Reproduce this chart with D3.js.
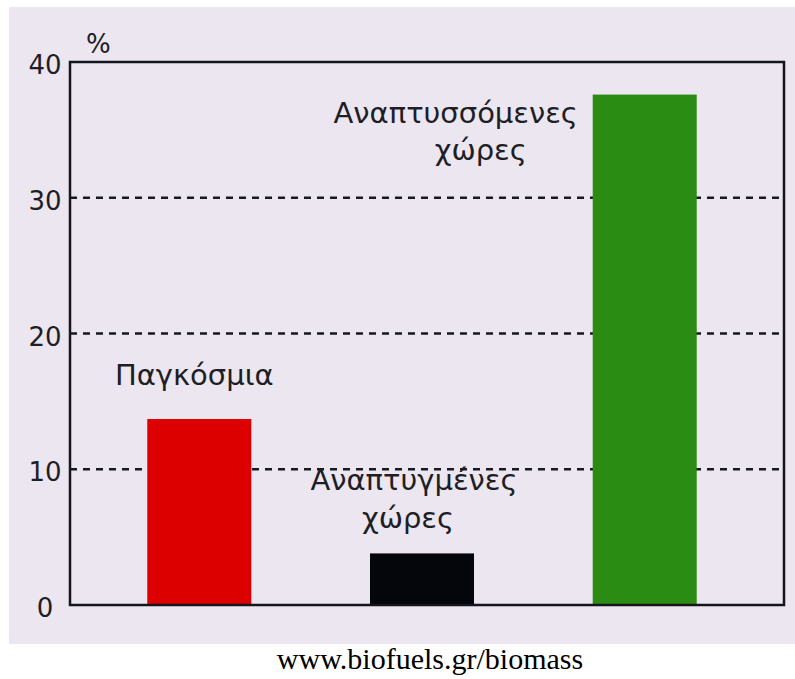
<!DOCTYPE html>
<html>
<head>
<meta charset="utf-8">
<script src="https://cdn.jsdelivr.net/npm/d3@7"></script>
<style>
  html, body { margin: 0; padding: 0; background: #ffffff; }
  svg { display: block; }
</style>
</head>
<body>
<svg id="chart" width="795" height="679"></svg>
<script>
// ---- data ----
const categories = ["Παγκόσμια", "Αναπτυγμένες χώρες", "Αναπτυσσόμενες χώρες"];
const values = [13.7, 3.8, 37.6];
const barColors = ["#dc0000", "#05050c", "#2a8c12"];
const labelLines = [["Παγκόσμια"], ["Αναπτυγμένες", "χώρες"], ["Αναπτυσσόμενες", "χώρες"]];
const yTicks = [0, 10, 20, 30, 40];
const gridValues = [10, 20, 30];
const unitLabel = "%";
const sourceText = "www.biofuels.gr/biomass";

// ---- layout (styling) ----
const W = 795, H = 679;
const plot = { left: 70, right: 784, top: 62, bottom: 605 };
// label placement: [dx from band centre, baseline y in data units] per line
const labelPlacement = [
  [[-5, 16.2]],
  [[-8, 8.47], [-14, 5.67]],
  [[-189, 35.5], [-164, 32.78]]
];

const svg = d3.select("#chart");

// scanned paper background
svg.append("rect").attr("x", 9).attr("y", 7).attr("width", W - 9).attr("height", 644 - 7)
  .attr("fill", "#ebe6f0");

const x = d3.scaleBand().domain(categories)
  .range([plot.left + 2, plot.left + 702])
  .paddingInner(0.533).paddingOuter(0.338);
const y = d3.scaleLinear().domain([0, 40]).range([plot.bottom, plot.top]);

// dashed gridlines
svg.append("g").selectAll("line").data(gridValues).join("line")
  .attr("x1", plot.left).attr("x2", plot.right)
  .attr("y1", d => y(d)).attr("y2", d => y(d))
  .attr("stroke", "#18181f").attr("stroke-width", 2.3)
  .attr("stroke-dasharray", "7,6");

// bars
svg.append("g").selectAll("rect").data(categories).join("rect")
  .attr("x", d => x(d)).attr("width", x.bandwidth())
  .attr("y", (d, i) => y(values[i]))
  .attr("height", (d, i) => y(0) - y(values[i]))
  .attr("fill", (d, i) => barColors[i]);

// frame
svg.append("rect")
  .attr("x", plot.left).attr("y", plot.top)
  .attr("width", plot.right - plot.left).attr("height", plot.bottom - plot.top)
  .attr("fill", "none").attr("stroke", "#15151c").attr("stroke-width", 2.5);

// y axis tick labels
const yAxis = d3.axisLeft(y).tickValues(yTicks).tickSize(0).tickPadding(0).tickFormat(d3.format("d"));
const gy = svg.append("g").attr("transform", `translate(${45},0)`).call(yAxis);
gy.select(".domain").remove();
gy.selectAll("text")
  .attr("text-anchor", "middle")
  .attr("x", 0).attr("dy", "0.45em")
  .attr("font-family", "DejaVu Sans, sans-serif")
  .attr("font-size", 26).attr("fill", "#1e1e24");

// unit label
svg.append("text").attr("x", 86).attr("y", 53).text(unitLabel)
  .attr("font-family", "DejaVu Sans, sans-serif")
  .attr("font-size", 26).attr("fill", "#1e1e24");

// category labels
categories.forEach((c, i) => {
  labelLines[i].forEach((line, j) => {
    const [dx, yv] = labelPlacement[i][j];
    svg.append("text")
      .attr("x", x(c) + x.bandwidth() / 2 + dx)
      .attr("y", y(yv))
      .attr("text-anchor", "middle")
      .attr("font-family", "DejaVu Sans, sans-serif")
      .attr("font-size", 29).attr("fill", "#1e1e24")
      .text(line);
  });
});

// source
svg.append("text").attr("x", 430).attr("y", 669).attr("text-anchor", "middle")
  .attr("font-family", "Liberation Serif, Times New Roman, serif")
  .attr("font-size", 30).attr("fill", "#000")
  .text(sourceText);
</script>
</body>
</html>
